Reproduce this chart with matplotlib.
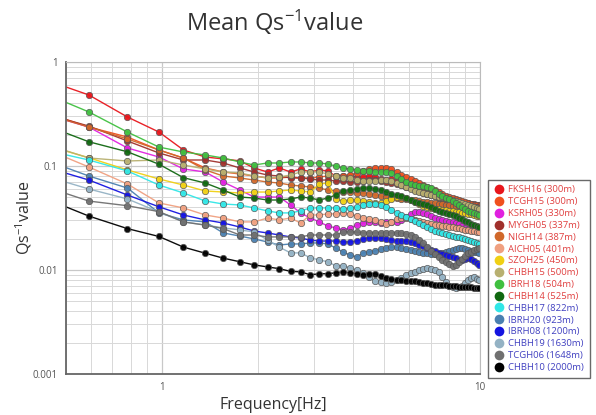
import matplotlib
matplotlib.use("Agg")
import matplotlib.pyplot as plt
from matplotlib.lines import Line2D
from matplotlib.ticker import FixedLocator, NullFormatter

plt.rcParams["font.family"] = ["Open Sans", "DejaVu Sans"]
plt.rcParams["mathtext.fontset"] = "custom"
plt.rcParams["mathtext.rm"] = "Open Sans"
plt.rcParams["mathtext.default"] = "regular"

# frequency samples [Hz]
freqs = [0.39, 0.59, 0.78, 0.98, 1.17, 1.37, 1.56, 1.76, 1.95, 2.15,
         2.34, 2.54, 2.73, 2.93, 3.13, 3.32, 3.52, 3.71, 3.91, 4.10,
         4.30, 4.49, 4.69, 4.88, 5.08, 5.27, 5.47, 5.66, 5.86, 6.05,
         6.25, 6.45, 6.64, 6.84, 7.03, 7.23, 7.42, 7.62, 7.81, 8.01,
         8.20, 8.40, 8.59, 8.79, 8.98, 9.18, 9.38, 9.57, 9.77, 9.96]

stations = ["FKSH16 (300m)", "TCGH15 (300m)", "KSRH05 (330m)", "MYGH05 (337m)",
            "NIGH14 (387m)", "AICH05 (401m)", "SZOH25 (450m)", "CHBH15 (500m)",
            "IBRH18 (504m)", "CHBH14 (525m)", "CHBH17 (822m)", "IBRH20 (923m)",
            "IBRH08 (1200m)", "CHBH19 (1630m)", "TCGH06 (1648m)", "CHBH10 (2000m)"]

colors = ["#e8161c", "#f0501e", "#e020e0", "#a0302c", "#d0682a", "#f0a080",
          "#f0d014", "#b8b070", "#40c040", "#106810", "#30e6e6", "#4a80b0",
          "#1414e0", "#94b2c4", "#707070", "#000000"]

fksh16 = [0.750, 0.482, 0.296, 0.212, 0.1425, 0.122, 0.117, 0.112, 0.0957, 0.0876,
          0.0957, 0.0876, 0.0936, 0.0876, 0.0916, 0.0896, 0.0801, 0.0801, 0.0801, 0.0784,
          0.0784, 0.0801, 0.0784, 0.0750, 0.0733, 0.0750, 0.0717, 0.0686, 0.0642, 0.0614,
          0.0588, 0.0575, 0.0550, 0.0538, 0.0526, 0.0515, 0.0503, 0.0492, 0.0492, 0.0482,
          0.0471, 0.0471, 0.0461, 0.0451, 0.0441, 0.0441, 0.0431, 0.0431, 0.0422, 0.0422]
tcgh15 = [0.361, 0.237, 0.190, 0.1425, 0.119, 0.0957, 0.0876, 0.0838, 0.0801, 0.0767,
          0.0767, 0.0784, 0.0767, 0.0767, 0.0784, 0.0801, 0.0801, 0.0801, 0.0819, 0.0857,
          0.0896, 0.0936, 0.0957, 0.0957, 0.0957, 0.0936, 0.0876, 0.0819, 0.0784, 0.0750,
          0.0717, 0.0686, 0.0656, 0.0628, 0.0601, 0.0588, 0.0562, 0.0538, 0.0515, 0.0503,
          0.0492, 0.0482, 0.0471, 0.0461, 0.0451, 0.0441, 0.0431, 0.0422, 0.0422, 0.0413]
ksrh05 = [0.345, 0.237, 0.149, 0.122, 0.0936, 0.0876, 0.0701, 0.0588, 0.0503, 0.0503,
          0.0503, 0.0422, 0.0354, 0.0316, 0.0290, 0.0265, 0.0254, 0.0243, 0.0254, 0.0271,
          0.0283, 0.0290, 0.0290, 0.0283, 0.0290, 0.0290, 0.0290, 0.0303, 0.0324, 0.0346,
          0.0361, 0.0361, 0.0354, 0.0346, 0.0331, 0.0316, 0.0310, 0.0303, 0.0296, 0.0290,
          0.0290, 0.0283, 0.0277, 0.0265, 0.0254, 0.0248, 0.0243, 0.0243, 0.0237, 0.0237]
mygh05 = [0.345, 0.242, 0.174, 0.1334, 0.1142, 0.1142, 0.1069, 0.0957, 0.0876, 0.0819,
          0.0801, 0.0767, 0.0767, 0.0750, 0.0733, 0.0733, 0.0717, 0.0717, 0.0701, 0.0701,
          0.0717, 0.0733, 0.0733, 0.0717, 0.0701, 0.0686, 0.0671, 0.0656, 0.0628, 0.0614,
          0.0588, 0.0575, 0.0562, 0.0538, 0.0526, 0.0515, 0.0492, 0.0482, 0.0471, 0.0461,
          0.0461, 0.0451, 0.0441, 0.0431, 0.0422, 0.0422, 0.0413, 0.0404, 0.0404, 0.0395]
nigh14 = [0.345, 0.237, 0.182, 0.1425, 0.1194, 0.0916, 0.0801, 0.0767, 0.0733, 0.0701,
          0.0686, 0.0656, 0.0642, 0.0628, 0.0614, 0.0588, 0.0575, 0.0562, 0.0562, 0.0550,
          0.0550, 0.0538, 0.0526, 0.0515, 0.0503, 0.0492, 0.0492, 0.0482, 0.0482, 0.0471,
          0.0471, 0.0461, 0.0451, 0.0451, 0.0441, 0.0441, 0.0431, 0.0431, 0.0422, 0.0422,
          0.0413, 0.0413, 0.0413, 0.0404, 0.0404, 0.0404, 0.0395, 0.0395, 0.0395, 0.0386]
aich05 = [0.166, 0.0978, 0.0671, 0.0441, 0.0395, 0.0338, 0.0316, 0.0290, 0.0290, 0.0316,
          0.0303, 0.0316, 0.0283, 0.0338, 0.0338, 0.0346, 0.0346, 0.0354, 0.0346, 0.0331,
          0.0316, 0.0310, 0.0303, 0.0290, 0.0277, 0.0290, 0.0310, 0.0316, 0.0316, 0.0310,
          0.0303, 0.0296, 0.0290, 0.0283, 0.0277, 0.0271, 0.0271, 0.0265, 0.0265, 0.0259,
          0.0259, 0.0254, 0.0254, 0.0248, 0.0243, 0.0243, 0.0237, 0.0237, 0.0232, 0.0232]
szoh25 = [0.174, 0.120, 0.0916, 0.0750, 0.0656, 0.0575, 0.0562, 0.0550, 0.0562, 0.0562,
          0.0575, 0.0588, 0.0575, 0.0562, 0.0671, 0.0686, 0.0482, 0.0461, 0.0471, 0.0471,
          0.0461, 0.0451, 0.0441, 0.0441, 0.0461, 0.0482, 0.0503, 0.0503, 0.0492, 0.0471,
          0.0451, 0.0431, 0.0413, 0.0404, 0.0395, 0.0386, 0.0386, 0.0378, 0.0378, 0.0370,
          0.0370, 0.0361, 0.0361, 0.0354, 0.0354, 0.0346, 0.0346, 0.0338, 0.0331, 0.0331]
chbh15 = [0.178, 0.1194, 0.1117, 0.1142, 0.1022, 0.0936, 0.0876, 0.0857, 0.0801, 0.0767,
          0.0784, 0.0819, 0.0876, 0.0876, 0.0876, 0.0838, 0.0801, 0.0767, 0.0767, 0.0733,
          0.0717, 0.0717, 0.0717, 0.0733, 0.0733, 0.0717, 0.0686, 0.0656, 0.0628, 0.0601,
          0.0575, 0.0562, 0.0550, 0.0538, 0.0526, 0.0515, 0.0503, 0.0503, 0.0492, 0.0482,
          0.0471, 0.0461, 0.0451, 0.0441, 0.0431, 0.0422, 0.0413, 0.0404, 0.0395, 0.0386]
ibrh18 = [0.562, 0.331, 0.212, 0.152, 0.1363, 0.1276, 0.1194, 0.1093, 0.1022, 0.1069,
          0.1069, 0.1093, 0.1093, 0.1069, 0.1069, 0.1045, 0.100, 0.0957, 0.0936, 0.0916,
          0.0896, 0.0896, 0.0876, 0.0876, 0.0876, 0.0857, 0.0801, 0.0750, 0.0701, 0.0671,
          0.0656, 0.0642, 0.0642, 0.0628, 0.0614, 0.0575, 0.0538, 0.0515, 0.0492, 0.0482,
          0.0461, 0.0441, 0.0422, 0.0404, 0.0386, 0.0370, 0.0361, 0.0354, 0.0346, 0.0338]
chbh14 = [0.277, 0.171, 0.137, 0.104, 0.0772, 0.0686, 0.0588, 0.0503, 0.0492, 0.0471,
          0.0471, 0.0482, 0.0503, 0.0492, 0.0471, 0.0492, 0.0526, 0.0575, 0.0588, 0.0601,
          0.0614, 0.0614, 0.0601, 0.0588, 0.0562, 0.0538, 0.0526, 0.0515, 0.0492, 0.0471,
          0.0451, 0.0441, 0.0431, 0.0422, 0.0404, 0.0386, 0.0370, 0.0361, 0.0354, 0.0346,
          0.0338, 0.0331, 0.0316, 0.0310, 0.0296, 0.0290, 0.0277, 0.0271, 0.0265, 0.0259]
chbh17 = [0.152, 0.1142, 0.0896, 0.0656, 0.0550, 0.0461, 0.0431, 0.0422, 0.0395, 0.0370,
          0.0354, 0.0354, 0.0370, 0.0395, 0.0395, 0.0395, 0.0395, 0.0386, 0.0395, 0.0404,
          0.0422, 0.0431, 0.0431, 0.0422, 0.0404, 0.0378, 0.0354, 0.0338, 0.0324, 0.0310,
          0.0296, 0.0283, 0.0271, 0.0259, 0.0248, 0.0237, 0.0232, 0.0227, 0.0222, 0.0217,
          0.0212, 0.0208, 0.0208, 0.0203, 0.0199, 0.0194, 0.0190, 0.0186, 0.0182, 0.0178]
ibrh20 = [0.1276, 0.0801, 0.0614, 0.0354, 0.0303, 0.0290, 0.0227, 0.0212, 0.0199, 0.0186,
          0.0174, 0.0178, 0.0178, 0.0182, 0.0182, 0.0178, 0.0163, 0.0149, 0.0139, 0.0134,
          0.0146, 0.0149, 0.0153, 0.0159, 0.0163, 0.0166, 0.0166, 0.0163, 0.0159, 0.0156,
          0.0153, 0.0149, 0.0146, 0.0146, 0.0143, 0.0143, 0.0143, 0.0146, 0.0149, 0.0153,
          0.0156, 0.0159, 0.0163, 0.0163, 0.0159, 0.0156, 0.0153, 0.0149, 0.0149, 0.0146]
ibrh08 = [0.107, 0.0733, 0.0526, 0.0405, 0.0338, 0.0303, 0.0283, 0.0259, 0.0237, 0.0227,
          0.0217, 0.0208, 0.0203, 0.0194, 0.0190, 0.0190, 0.0190, 0.0186, 0.0186, 0.0190,
          0.0199, 0.0203, 0.0203, 0.0203, 0.0199, 0.0194, 0.0190, 0.0190, 0.0190, 0.0186,
          0.0182, 0.0174, 0.0170, 0.0163, 0.0156, 0.0153, 0.0146, 0.0143, 0.0139, 0.0137,
          0.0134, 0.0131, 0.0125, 0.0125, 0.0128, 0.0131, 0.0128, 0.0122, 0.0117, 0.0112]
chbh19 = [0.0876, 0.0601, 0.0482, 0.0361, 0.0290, 0.0271, 0.0254, 0.0243, 0.0232, 0.0194,
          0.0166, 0.0146, 0.0146, 0.0131, 0.0125, 0.0120, 0.0110, 0.0110, 0.0105, 0.0100,
          0.0094, 0.0086, 0.0078, 0.0077, 0.0075, 0.0077, 0.0080, 0.0084, 0.0090, 0.0094,
          0.0096, 0.0100, 0.0102, 0.0105, 0.0102, 0.0100, 0.0096, 0.0086, 0.0077, 0.0070,
          0.0069, 0.0067, 0.0069, 0.0070, 0.0075, 0.0080, 0.0084, 0.0086, 0.0082, 0.0080]
tcgh06 = [0.070, 0.046, 0.0415, 0.0364, 0.029, 0.027, 0.025, 0.0217, 0.0217, 0.0208,
          0.0208, 0.0208, 0.0208, 0.0217, 0.0217, 0.0217, 0.0217, 0.0232, 0.0232, 0.0232,
          0.0227, 0.0227, 0.0227, 0.0227, 0.0227, 0.0227, 0.0227, 0.0227, 0.0222, 0.0217,
          0.0208, 0.0194, 0.0182, 0.0166, 0.0153, 0.0143, 0.0134, 0.0125, 0.0120, 0.0114,
          0.0110, 0.0112, 0.0120, 0.0128, 0.0137, 0.0146, 0.0149, 0.0156, 0.0159, 0.0163]
chbh10 = [0.055, 0.033, 0.025, 0.021, 0.0166, 0.0145, 0.0130, 0.0120, 0.0112, 0.0107,
          0.0103, 0.0097, 0.0096, 0.0090, 0.0092, 0.0092, 0.0094, 0.0096, 0.0094, 0.0092,
          0.0090, 0.0092, 0.0092, 0.0088, 0.0084, 0.0082, 0.0080, 0.0080, 0.0079, 0.0078,
          0.0078, 0.0077, 0.0075, 0.0075, 0.0073, 0.0072, 0.0072, 0.0072, 0.0071, 0.0070,
          0.0070, 0.0070, 0.0069, 0.0068, 0.0069, 0.0068, 0.0068, 0.0067, 0.0067, 0.0067]

series = [fksh16, tcgh15, ksrh05, mygh05, nigh14, aich05, szoh25, chbh15,
          ibrh18, chbh14, chbh17, ibrh20, ibrh08, chbh19, tcgh06, chbh10]

fig = plt.figure(figsize=(5.96, 4.15), dpi=100)
ax = fig.add_axes([0.1107, 0.0988, 0.6946, 0.7518])

for vals, color in zip(series, colors):
    ax.plot(freqs, vals, color=color, lw=1.0, marker="o", ms=4.6,
            mfc=color, mec="#555555", mew=0.5, alpha=0.95)

ax.set_xscale("log")
ax.set_yscale("log")
ax.set_xlim(0.5, 10)
ax.set_ylim(0.001, 1)

ax.xaxis.set_major_locator(FixedLocator([1, 10]))
ax.set_xticklabels(["1", "10"])
ax.xaxis.set_minor_locator(FixedLocator([0.5, 0.6, 0.7, 0.8, 0.9, 2, 3, 4, 5, 6, 7, 8, 9]))
ax.xaxis.set_minor_formatter(NullFormatter())
ax.yaxis.set_major_locator(FixedLocator([0.001, 0.01, 0.1, 1]))
ax.set_yticklabels(["0.001", "0.01", "0.1", "1"])
ax.yaxis.set_minor_formatter(NullFormatter())

ax.grid(True, which="major", color="#c8c8c8", lw=0.9)
ax.grid(True, which="minor", color="#d8d8d8", lw=0.7)
ax.set_axisbelow(True)
ax.tick_params(which="both", length=0, labelsize=7, labelcolor="#555555", pad=6)

for side in ["left", "bottom"]:
    ax.spines[side].set_color("#666666")
    ax.spines[side].set_linewidth(1.3)
for side in ["top", "right"]:
    ax.spines[side].set_color("#bbbbbb")
    ax.spines[side].set_linewidth(0.8)

ax.set_xlabel("Frequency[Hz]", fontsize=11.5, color="#333333", labelpad=3)
ax.set_ylabel(r"Qs$^{-1}$value", fontsize=11.5, color="#333333", labelpad=-1)
fig.text(0.46, 0.947, r"Mean Qs$^{-1}$value", fontsize=17, color="#333333",
         ha="center", va="center")

handles = [Line2D([], [], ls="none", marker="o", ms=7, mfc=c, mec="none")
           for c in colors]
leg = fig.legend(handles, stations, loc="upper left", bbox_to_anchor=(0.818, 0.567),
                 fontsize=6.8, frameon=True, fancybox=False, edgecolor="#444444",
                 labelspacing=0.3, handletextpad=0.4, handlelength=1.2,
                 borderpad=0.6, borderaxespad=0)
leg.get_frame().set_linewidth(1.0)
for i, txt in enumerate(leg.get_texts()):
    txt.set_color("#e04040" if i < 10 else "#4040c0")

fig.savefig("out.png", dpi=100)
